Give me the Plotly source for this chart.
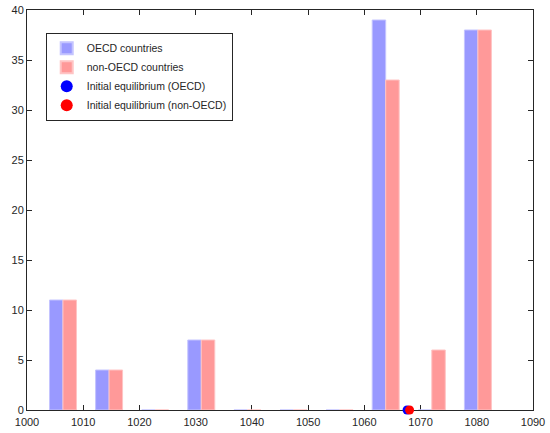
import plotly.graph_objects as go

# bin centres of the histogram
bins = [1006.4, 1014.6, 1022.8, 1031.0, 1039.2, 1047.4, 1055.6, 1063.8, 1072.0, 1080.2]
oecd = [11, 4, 0, 7, 0, 0, 0, 39, 0, 38]
non_oecd = [11, 4, 0, 7, 0, 0, 0, 33, 6, 38]

# initial equilibrium points
eq_oecd_x = [1067.6]
eq_non_oecd_x = [1068.05]

fig = go.Figure()
fig.add_trace(go.Bar(x=bins, y=oecd, name="OECD countries",
                     marker=dict(color="#9999ff", line=dict(color="#c4c4ff", width=1))))
fig.add_trace(go.Bar(x=bins, y=non_oecd, name="non-OECD countries",
                     marker=dict(color="#ff9999", line=dict(color="#ffc4c4", width=1))))
fig.add_trace(go.Scatter(x=eq_oecd_x, y=[0], mode="markers", name="Initial equilibrium (OECD)",
                         marker=dict(color="#0000ff", size=9), cliponaxis=False))
fig.add_trace(go.Scatter(x=eq_non_oecd_x, y=[0], mode="markers", name="Initial equilibrium (non-OECD)",
                         marker=dict(color="#ff0000", size=9), cliponaxis=False))

axis_style = dict(showline=True, linecolor="#262626", linewidth=1, mirror="ticks",
                  ticks="inside", ticklen=5, tickcolor="#262626", showgrid=False,
                  zeroline=False, automargin=False, layer="below traces",
                  tickfont=dict(size=11, color="#262626"))

fig.update_xaxes(range=[1000, 1090], tickvals=list(range(1000, 1091, 10)),
                 ticklabelstandoff=2, **axis_style)
fig.update_yaxes(range=[0, 40], tickvals=list(range(0, 41, 5)), **axis_style)

fig.update_layout(
    width=550, height=433,
    margin=dict(l=27, r=17, t=10, b=23),
    barmode="group", bargap=0.415, bargroupgap=0,
    plot_bgcolor="white", paper_bgcolor="white",
    font=dict(family="Liberation Sans, Arial, sans-serif", size=11, color="#262626"),
    legend=dict(x=0.037, y=0.943, xanchor="left", yanchor="top",
                bordercolor="#262626", borderwidth=1, bgcolor="white",
                font=dict(size=10.5), tracegroupgap=0, itemsizing="constant"),
    showlegend=True,
)

# drop the browser's default page margin so the figure fills the window
fig.write_html("out.html", config={"displayModeBar": False},
               post_script="document.body.style.margin = '0';")
